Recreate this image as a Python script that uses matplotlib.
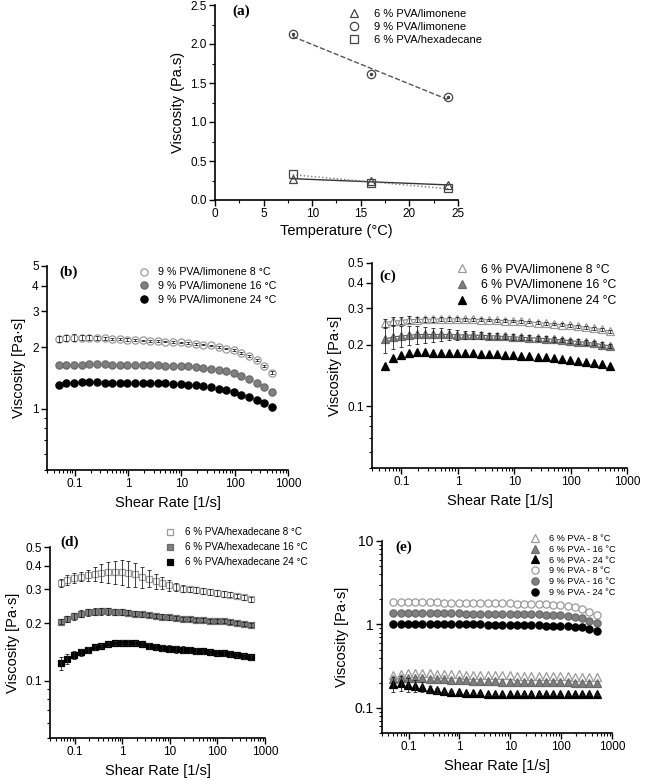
import numpy as np
import matplotlib
matplotlib.use('Agg')
from matplotlib import pyplot
from matplotlib import ticker

pyplot.rcParams['font.family'] = ['Liberation Sans', 'DejaVu Sans']

W, H = 651, 780

# ---- panel (a): viscosity vs temperature
temps = [8, 16, 24]
a_lim6 = [0.27, 0.24, 0.19]
a_lim9 = [2.13, 1.62, 1.32]
a_hex6 = [0.33, 0.22, 0.15]

# ---- shear rate grid (1/s)
rate = [0.05, 0.0695, 0.0965, 0.134, 0.186, 0.259, 0.360, 0.5, 0.695, 0.965,
        1.34, 1.86, 2.59, 3.60, 5.0, 6.95, 9.65, 13.4, 18.6, 25.9,
        36.0, 50.0, 69.5, 96.5, 134, 186, 259, 360, 500]

# ---- panel (b): 9 % PVA/limonene
b8 = [2.20, 2.22, 2.23, 2.23, 2.23, 2.22, 2.21, 2.20, 2.19, 2.18, 2.17, 2.16,
      2.15, 2.14, 2.13, 2.12, 2.11, 2.10, 2.08, 2.06, 2.04, 2.01, 1.97, 1.93,
      1.88, 1.81, 1.73, 1.62, 1.50]
b8_err = [0.08, 0.08, 0.08, 0.07, 0.07, 0.05, 0.04, 0.03, 0.03, 0.03, 0.02,
          0.02, 0.02, 0.02, 0.02, 0.02, 0.02, 0.02, 0.02, 0.02, 0.02, 0.02,
          0.02, 0.02, 0.02, 0.02, 0.02, 0.02, 0.02]
b16 = [1.63, 1.64, 1.64, 1.64, 1.65, 1.65, 1.65, 1.64, 1.64, 1.64, 1.63, 1.63,
       1.63, 1.63, 1.62, 1.62, 1.62, 1.61, 1.60, 1.59, 1.57, 1.55, 1.52, 1.49,
       1.45, 1.40, 1.34, 1.27, 1.20]
b24 = [1.31, 1.33, 1.34, 1.35, 1.35, 1.35, 1.34, 1.34, 1.34, 1.34, 1.33, 1.33,
       1.33, 1.33, 1.33, 1.32, 1.32, 1.31, 1.30, 1.29, 1.27, 1.25, 1.23, 1.20,
       1.17, 1.14, 1.10, 1.06, 1.02]

# ---- panel (c): 6 % PVA/limonene
c8 = [0.255, 0.260, 0.262, 0.265, 0.265, 0.266, 0.266, 0.267, 0.267, 0.267,
      0.266, 0.266, 0.265, 0.264, 0.263, 0.262, 0.261, 0.260, 0.258, 0.256,
      0.254, 0.252, 0.250, 0.248, 0.246, 0.243, 0.240, 0.237, 0.232]
c8_err = [0.012, 0.012, 0.010, 0.010, 0.008, 0.008, 0.007, 0.006, 0.006,
          0.005, 0.005, 0.005, 0.005, 0.004, 0.004, 0.004, 0.004, 0.004, 0.004,
          0.004, 0.004, 0.004, 0.004, 0.004, 0.004, 0.004, 0.004, 0.004, 0.004]
c16 = [0.212, 0.218, 0.220, 0.222, 0.224, 0.224, 0.224, 0.224, 0.224, 0.223,
       0.223, 0.222, 0.222, 0.221, 0.220, 0.219, 0.218, 0.217, 0.216, 0.215,
       0.214, 0.212, 0.211, 0.209, 0.207, 0.205, 0.203, 0.200, 0.197]
c16_err = [0.030, 0.028, 0.026, 0.024, 0.022, 0.020, 0.018, 0.016, 0.014,
           0.012, 0.011, 0.010, 0.009, 0.008, 0.008, 0.007, 0.007, 0.006,
           0.006, 0.006, 0.006, 0.005, 0.005, 0.005, 0.005, 0.005, 0.005,
           0.005, 0.005]
c24 = [0.158, 0.172, 0.178, 0.182, 0.183, 0.183, 0.182, 0.182, 0.182, 0.181,
       0.181, 0.181, 0.180, 0.180, 0.179, 0.178, 0.177, 0.176, 0.175, 0.174,
       0.173, 0.172, 0.170, 0.169, 0.167, 0.165, 0.163, 0.161, 0.158]

# ---- panel (d): 6 % PVA/hexadecane
d8 = [0.325, 0.335, 0.345, 0.350, 0.355, 0.362, 0.367, 0.370, 0.372, 0.370,
      0.365, 0.360, 0.350, 0.342, 0.333, 0.325, 0.315, 0.308, 0.303, 0.300,
      0.298, 0.295, 0.292, 0.288, 0.285, 0.281, 0.277, 0.273, 0.267]
d8_err = [0.015, 0.020, 0.020, 0.020, 0.025, 0.030, 0.040, 0.045, 0.050,
          0.055, 0.055, 0.050, 0.045, 0.035, 0.030, 0.025, 0.020, 0.015,
          0.012, 0.010, 0.010, 0.010, 0.010, 0.010, 0.010, 0.008, 0.008,
          0.008, 0.008]
d16 = [0.203, 0.210, 0.217, 0.224, 0.228, 0.229, 0.230, 0.230, 0.229, 0.228,
       0.226, 0.224, 0.222, 0.220, 0.218, 0.216, 0.214, 0.212, 0.210, 0.209,
       0.208, 0.207, 0.206, 0.205, 0.204, 0.202, 0.200, 0.198, 0.195]
d16_err = [0.006, 0.008, 0.009, 0.010, 0.010, 0.010, 0.009, 0.009, 0.008,
           0.008, 0.007, 0.007, 0.007, 0.006, 0.006, 0.006, 0.006, 0.005,
           0.005, 0.005, 0.005, 0.005, 0.005, 0.005, 0.005, 0.005, 0.005,
           0.005, 0.005]
d24 = [0.123, 0.130, 0.136, 0.141, 0.145, 0.149, 0.152, 0.155, 0.157, 0.158,
       0.158, 0.157, 0.155, 0.152, 0.150, 0.148, 0.147, 0.146, 0.145, 0.144,
       0.143, 0.142, 0.141, 0.140, 0.139, 0.138, 0.136, 0.134, 0.132]
d24_err = [0.009, 0.008, 0.007, 0.006, 0.005, 0.005, 0.004, 0.004, 0.004,
           0.004, 0.004, 0.004, 0.004, 0.005, 0.006, 0.006, 0.006, 0.006,
           0.006, 0.005, 0.005, 0.005, 0.004, 0.004, 0.004, 0.004, 0.004,
           0.004, 0.004]

# ---- panel (e): 6 % and 9 % PVA
e6_8 = [0.245, 0.255, 0.262, 0.262, 0.262, 0.260, 0.258, 0.256, 0.254, 0.252,
        0.251, 0.250, 0.249, 0.248, 0.247, 0.246, 0.245, 0.244, 0.243, 0.242,
        0.241, 0.240, 0.240, 0.239, 0.238, 0.237, 0.236, 0.234, 0.232]
e6_16 = [0.220, 0.225, 0.228, 0.228, 0.226, 0.224, 0.222, 0.220, 0.218, 0.216,
         0.214, 0.212, 0.210, 0.209, 0.208, 0.207, 0.206, 0.205, 0.205, 0.204,
         0.204, 0.203, 0.203, 0.202, 0.202, 0.201, 0.200, 0.200, 0.199]
e6_24 = [0.195, 0.200, 0.190, 0.185, 0.178, 0.170, 0.162, 0.158, 0.156, 0.154,
         0.152, 0.150, 0.149, 0.148, 0.148, 0.148, 0.147, 0.147, 0.147, 0.147,
         0.147, 0.147, 0.146, 0.146, 0.146, 0.146, 0.146, 0.146, 0.145]
e6_24_err = [0.040, 0.040, 0.035, 0.030, 0.025, 0.015, 0.010, 0.008, 0.006,
             0.005, 0.004, 0.004, 0.004, 0.004, 0.004, 0.004, 0.004, 0.004,
             0.004, 0.004, 0.004, 0.004, 0.004, 0.004, 0.004, 0.004, 0.004,
             0.004, 0.004]
e9_8 = [1.84, 1.85, 1.85, 1.85, 1.85, 1.84, 1.84, 1.83, 1.83, 1.82, 1.82, 1.81,
        1.81, 1.80, 1.80, 1.79, 1.79, 1.78, 1.78, 1.77, 1.76, 1.75, 1.73, 1.71,
        1.67, 1.62, 1.54, 1.42, 1.28]
e9_16 = [1.37, 1.38, 1.38, 1.38, 1.38, 1.37, 1.37, 1.36, 1.36, 1.36, 1.35,
         1.35, 1.35, 1.34, 1.34, 1.34, 1.33, 1.33, 1.33, 1.32, 1.32, 1.31,
         1.30, 1.28, 1.26, 1.23, 1.18, 1.11, 1.03]
e9_24 = [1.00, 1.01, 1.02, 1.02, 1.01, 1.01, 1.01, 1.00, 1.00, 1.00, 1.00,
         1.00, 1.00, 0.99, 0.99, 0.99, 0.99, 0.99, 0.98, 0.98, 0.98, 0.97,
         0.97, 0.96, 0.95, 0.94, 0.92, 0.88, 0.84]

OPEN = dict(mfc='white', mec='#9a9a9a')
GREY = dict(mfc='#7f7f7f', mec='#6a6a6a')
DARK = dict(mfc='black', mec='black')


def px_axes(fig, left, top, right, bottom):
  return fig.add_axes([left / W, 1 - bottom / H,
                       (right - left) / W, (bottom - top) / H])


def style(ax):
  for side in ('top', 'right'):
    ax.spines[side].set_visible(False)
  for side in ('left', 'bottom'):
    ax.spines[side].set_linewidth(1.2)
  ax.tick_params(which='major', direction='out', length=4, width=1,
                 labelsize=8.5, pad=2)
  ax.tick_params(which='minor', direction='out', length=2.5, width=0.8)


def shear_axes(ax, ylim, yticks, ylabels):
  ax.set_xscale('log')
  ax.set_yscale('log')
  ax.set_xlim(0.03, 1000)
  ax.set_ylim(*ylim)
  ax.set_xticks([0.1, 1, 10, 100, 1000])
  ax.set_xticklabels(['0.1', '1', '10', '100', '1000'])
  ax.xaxis.set_minor_locator(ticker.LogLocator(subs=np.arange(2, 10)))
  ax.xaxis.set_minor_formatter(ticker.NullFormatter())
  ax.yaxis.set_minor_locator(ticker.LogLocator(subs=np.arange(2, 10)))
  ax.yaxis.set_minor_formatter(ticker.NullFormatter())
  ax.set_yticks(yticks)
  ax.set_yticklabels(ylabels)
  ax.set_xlabel('Shear Rate [1/s]', fontsize=10.5, labelpad=4)
  ax.set_ylabel('Viscosity [Pa\u00b7s]', fontsize=10.5)
  style(ax)


def series(ax, y, err, marker, colors, label, ms=5.2):
  ax.plot(rate, y, marker, ms=ms, mew=0.9, label=label, zorder=2, **colors)
  if err is not None:
    ax.errorbar(rate, y, yerr=err, fmt='none', ecolor='#222222',
                elinewidth=0.6, capsize=1.6, capthick=0.6, zorder=3)


def panel_tag(ax, tag, x=0.04, y=0.98):
  ax.text(x, y, tag, transform=ax.transAxes, ha='left', va='top',
          family=['Liberation Serif'], fontweight='bold', fontsize=11)


def main():
  fig = pyplot.figure(figsize=(W / 100, H / 100), dpi=100)

  # (a)
  ax = px_axes(fig, 215, 5, 458, 200)
  t = np.array(temps)
  for vals, ls, col in ((a_lim6, '-', '#333333'), (a_lim9, '--', '#555555'),
                        (a_hex6, ':', '#777777')):
    k, b = np.polyfit(t, vals, 1)
    ax.plot(t, k * t + b, ls=ls, color=col, lw=1)
  ax.plot(temps, a_lim6, '^', ms=6, mfc='none', mec='#444444', mew=0.9,
          label='6 % PVA/limonene')
  ax.plot(temps, a_lim9, 'o', ms=6, mfc='none', mec='#444444', mew=0.9,
          label='9 % PVA/limonene')
  ax.plot(temps, a_lim9, '.', ms=3, color='#444444')
  ax.plot(temps, a_hex6, 's', ms=5.5, mfc='none', mec='#444444', mew=0.9,
          label='6 % PVA/hexadecane')
  ax.set_xlim(0, 25)
  ax.set_ylim(0, 2.5)
  ax.set_xticks([0, 5, 10, 15, 20, 25])
  ax.set_yticks([0.0, 0.5, 1.0, 1.5, 2.0, 2.5])
  ax.yaxis.set_major_formatter(ticker.FormatStrFormatter('%.1f'))
  ax.xaxis.set_minor_locator(ticker.MultipleLocator(2.5))
  ax.yaxis.set_minor_locator(ticker.MultipleLocator(0.25))
  ax.set_xlabel('Temperature (\u00b0C)', fontsize=10.5, labelpad=3)
  ax.set_ylabel('Viscosity (Pa.s)', fontsize=10.5)
  style(ax)
  panel_tag(ax, '(a)', x=0.07, y=1.0)
  ax.legend(loc='upper right', bbox_to_anchor=(1.14, 1.03), frameon=False,
            fontsize=8.0, handlelength=1.0, handletextpad=1.3,
            labelspacing=0.25)

  # (b)
  ax = px_axes(fig, 47, 266, 288, 470)
  series(ax, b8, b8_err, 'o', OPEN, '9 % PVA/limonene 8 \u00b0C')
  series(ax, b16, None, 'o', GREY, '9 % PVA/limonene 16 \u00b0C')
  series(ax, b24, None, 'o', DARK, '9 % PVA/limonene 24 \u00b0C')
  shear_axes(ax, (0.5, 5), [1, 2, 3, 4, 5], ['1', '2', '3', '4', '5'])
  panel_tag(ax, '(b)', x=0.05, y=1.0)
  ax.legend(loc='upper right', bbox_to_anchor=(0.99, 1.04), frameon=False,
            fontsize=7.7, handlelength=1.0, handletextpad=0.8,
            labelspacing=0.35)

  # (c)
  ax = px_axes(fig, 372, 263, 627, 468)
  ax.plot(rate, c8, '-', color='#888888', lw=0.8)
  ax.plot(rate, c16, '-', color='#555555', lw=0.8)
  series(ax, c8, c8_err, '^', OPEN, '6 % PVA/limonene 8 \u00b0C', ms=6)
  series(ax, c16, c16_err, '^', GREY, '6 % PVA/limonene 16 \u00b0C', ms=6)
  series(ax, c24, None, '^', DARK, '6 % PVA/limonene 24 \u00b0C', ms=6)
  shear_axes(ax, (0.05, 0.5), [0.1, 0.2, 0.3, 0.4, 0.5],
             ['0.1', '0.2', '0.3', '0.4', '0.5'])
  panel_tag(ax, '(c)', x=0.03, y=0.97)
  ax.legend(loc='upper right', bbox_to_anchor=(1.0, 1.05), frameon=False,
            fontsize=8.8, handlelength=1.0, handletextpad=1.0,
            labelspacing=0.3)

  # (d)
  ax = px_axes(fig, 50, 547, 265, 738)
  series(ax, d8, d8_err, 's', OPEN, '6 % PVA/hexadecane 8 \u00b0C', ms=5)
  series(ax, d16, d16_err, 's', GREY, '6 % PVA/hexadecane 16 \u00b0C', ms=5)
  series(ax, d24, d24_err, 's', DARK, '6 % PVA/hexadecane 24 \u00b0C', ms=5)
  shear_axes(ax, (0.05, 0.5), [0.1, 0.2, 0.3, 0.4, 0.5],
             ['0.1', '0.2', '0.3', '0.4', '0.5'])
  panel_tag(ax, '(d)', x=0.05, y=1.06)
  ax.legend(loc='upper right', bbox_to_anchor=(1.24, 1.15), frameon=False,
            fontsize=7.1, handlelength=1.0, handletextpad=1.0,
            labelspacing=0.5)

  # (e)
  ax = px_axes(fig, 382, 541, 612, 733)
  series(ax, e6_8, None, '^', OPEN, '6 % PVA - 8 \u00b0C', ms=5.5)
  series(ax, e6_16, None, '^', GREY, '6 % PVA - 16 \u00b0C', ms=5.5)
  series(ax, e6_24, e6_24_err, '^', DARK, '6 % PVA - 24 \u00b0C', ms=5.5)
  series(ax, e9_8, None, 'o', OPEN, '9 % PVA - 8 \u00b0C')
  series(ax, e9_16, None, 'o', GREY, '9 % PVA - 16 \u00b0C')
  series(ax, e9_24, None, 'o', DARK, '9 % PVA - 24 \u00b0C')
  shear_axes(ax, (0.05, 10), [0.1, 1, 10], ['0.1', '1', '10'])
  ax.set_yticklabels(['0.1', '1', '10'], fontsize=10)
  panel_tag(ax, '(e)', x=0.06, y=1.0)
  ax.legend(loc='upper right', bbox_to_anchor=(1.05, 1.08), frameon=False,
            fontsize=6.6, handlelength=1.0, handletextpad=1.0,
            labelspacing=0.2)

  pyplot.savefig('out.png', dpi=100)


if __name__ == '__main__':
  main()
